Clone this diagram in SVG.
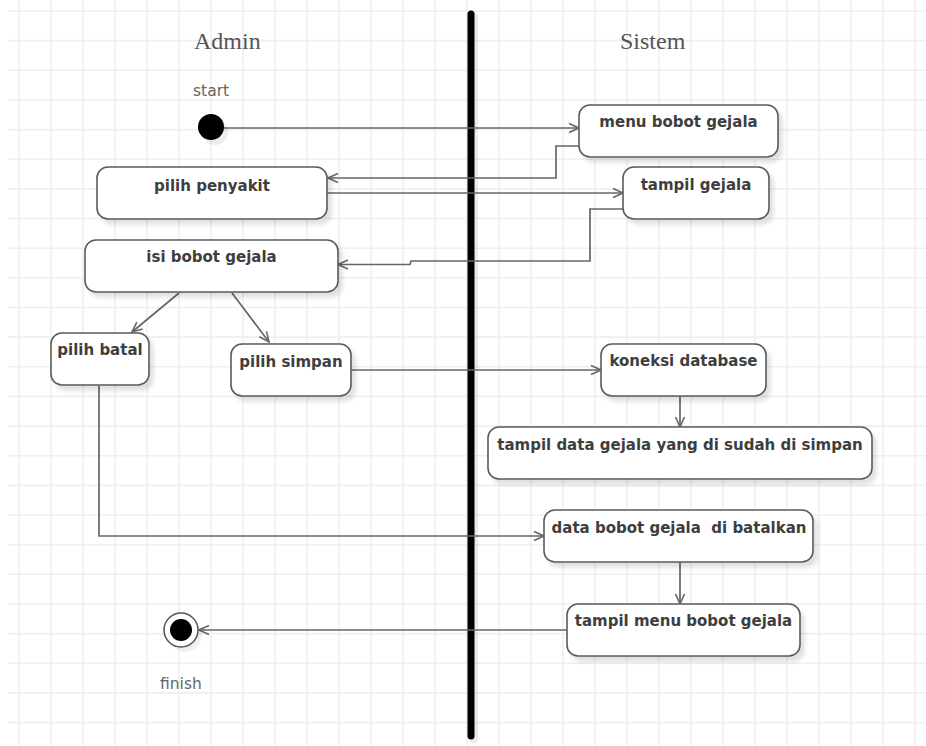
<svg xmlns="http://www.w3.org/2000/svg" width="926" height="746" viewBox="0 0 926 746">
  <style>
    .grid { stroke: #efefef; stroke-width: 1.6; fill: none; }
    .lane-title { font-family: "Liberation Serif", "Times New Roman", serif; font-size: 24px; fill: #555; }
    .caption { font-family: "DejaVu Sans", Verdana, sans-serif; font-size: 15.5px; fill: #666; }
    .act rect { fill: #fff; stroke: #5a5a5a; stroke-width: 1.6; filter: url(#shadow); }
    .act text { font-family: "DejaVu Sans", Verdana, sans-serif; font-size: 15px; font-weight: bold; fill: #3e3e3e; text-anchor: middle; white-space: pre; }
    .flow { fill: none; stroke: #666; stroke-width: 1.7; marker-end: url(#open); }
  </style>
  <defs>
    <filter id="shadow" x="-10%" y="-20%" width="130%" height="160%">
      <feGaussianBlur in="SourceAlpha" stdDeviation="2"/>
      <feOffset dx="4" dy="5" result="b"/>
      <feComponentTransfer><feFuncA type="linear" slope="0.12"/></feComponentTransfer>
      <feMerge><feMergeNode/><feMergeNode in="SourceGraphic"/></feMerge>
    </filter>
    <marker id="open" viewBox="0 0 12 12" refX="11" refY="6" markerWidth="12" markerHeight="12" markerUnits="userSpaceOnUse" orient="auto">
      <path d="M1,1.5 L11,6 L1,10.5" fill="none" stroke="#666" stroke-width="1.6"/>
    </marker>
  </defs>

  <rect width="926" height="746" fill="#fff"/>

  <!-- background grid -->
  <g class="grid">
    <path d="M19,0V746 M51,0V746 M83,0V746 M115,0V746 M147,0V746 M179,0V746 M211,0V746 M243,0V746 M275,0V746 M307,0V746 M339,0V746 M371,0V746 M403,0V746 M435,0V746 M467,0V746 M499,0V746 M531,0V746 M563,0V746 M595,0V746 M627,0V746 M659,0V746 M691,0V746 M723,0V746 M755,0V746 M787,0V746 M819,0V746 M851,0V746 M883,0V746 M915,0V746"/>
    <path d="M8,11H926 M8,40.6H926 M8,70.3H926 M8,99.9H926 M8,129.6H926 M8,159.2H926 M8,188.9H926 M8,218.5H926 M8,248.2H926 M8,277.8H926 M8,307.5H926 M8,337.1H926 M8,366.8H926 M8,396.4H926 M8,426.1H926 M8,455.7H926 M8,485.4H926 M8,515H926 M8,544.7H926 M8,574.3H926 M8,604H926 M8,633.6H926 M8,663.3H926 M8,692.9H926 M8,722.6H926"/>
  </g>

  <!-- swimlane divider and titles -->
  <g id="lanes">
    <line x1="474" y1="17" x2="474" y2="739" stroke="#000" stroke-opacity="0.08" stroke-width="8" stroke-linecap="round"/>
    <line x1="471" y1="14" x2="471" y2="736" stroke="#000" stroke-width="7" stroke-linecap="round"/>
    <text class="lane-title" x="194" y="49">Admin</text>
    <text class="lane-title" x="620" y="49">Sistem</text>
  </g>

  <!-- connectors -->
  <g id="connectors">
    <path class="flow" d="M223,128 H579"/>
    <path class="flow" d="M579,146 H556 V178 H328"/>
    <path class="flow" d="M327,193 H623"/>
    <path class="flow" d="M623,209 H590 V261 H411 L410,264.5 H338"/>
    <path class="flow" d="M179,293 L132,332"/>
    <path class="flow" d="M232,293 L269,342"/>
    <path class="flow" d="M351,370 H601"/>
    <path class="flow" d="M680,396 V427"/>
    <path class="flow" d="M99,386 V536 H544"/>
    <path class="flow" d="M680,562 V604"/>
    <path class="flow" d="M567,630 H199"/>
  </g>

  <!-- initial node -->
  <g id="start">
    <circle cx="215" cy="132" r="13" fill="#000" fill-opacity="0.07"/>
    <circle cx="211" cy="127" r="13" fill="#000"/>
    <text class="caption" x="193" y="96">start</text>
  </g>

  <g id="menu-bobot-gejala" class="act">
    <rect x="579" y="105" width="199" height="52" rx="11"/>
    <text x="678.5" y="127">menu bobot gejala</text>
  </g>

  <g id="pilih-penyakit" class="act">
    <rect x="97" y="167" width="230" height="52" rx="11"/>
    <text x="212" y="191">pilih penyakit</text>
  </g>

  <g id="tampil-gejala" class="act">
    <rect x="623" y="167" width="146" height="52" rx="11"/>
    <text x="696" y="190">tampil gejala</text>
  </g>

  <g id="isi-bobot-gejala" class="act">
    <rect x="85" y="240" width="253" height="52" rx="11"/>
    <text x="211.5" y="262">isi bobot gejala</text>
  </g>

  <g id="pilih-batal" class="act">
    <rect x="51" y="333" width="98" height="52" rx="11"/>
    <text x="100" y="355">pilih batal</text>
  </g>

  <g id="pilih-simpan" class="act">
    <rect x="231" y="344" width="120" height="52" rx="11"/>
    <text x="291" y="366.5">pilih simpan</text>
  </g>

  <g id="koneksi-database" class="act">
    <rect x="601" y="344" width="165" height="52" rx="11"/>
    <text x="683.5" y="366">koneksi database</text>
  </g>

  <g id="tampil-data-gejala" class="act">
    <rect x="488" y="427" width="384" height="52" rx="11"/>
    <text x="680" y="450">tampil data gejala yang di sudah di simpan</text>
  </g>

  <g id="data-dibatalkan" class="act">
    <rect x="544" y="510" width="269" height="52" rx="11"/>
    <text x="679" y="533" xml:space="preserve">data bobot gejala  di batalkan</text>
  </g>

  <g id="tampil-menu-bobot-gejala" class="act">
    <rect x="567" y="604" width="233" height="52" rx="11"/>
    <text x="683.5" y="626">tampil menu bobot gejala</text>
  </g>

  <!-- final node -->
  <g id="finish">
    <circle cx="185" cy="635" r="17" fill="#000" fill-opacity="0.06"/>
    <circle cx="181" cy="630" r="17" fill="#fff" stroke="#555" stroke-width="1.5"/>
    <circle cx="181" cy="630" r="11" fill="#000"/>
    <text class="caption" x="160" y="689">finish</text>
  </g>
</svg>
